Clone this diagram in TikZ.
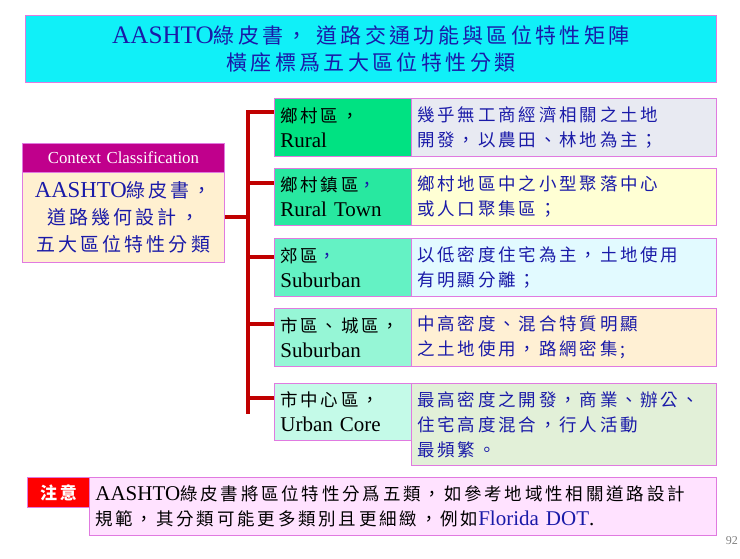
\documentclass[tikz,border=0pt]{standalone}
\usepackage{fontspec}
\setmainfont{Liberation Serif}[Scale=1.2]
\newfontfamily\cjk[LetterSpace=16]{Noto Sans CJK TC}
\usetikzlibrary{positioning}
\definecolor{tblue}{HTML}{1A1AA8}
\definecolor{trunk}{HTML}{C00000}
\definecolor{edge}{HTML}{E07AE0}
\definecolor{titlecyan}{HTML}{10F0F8}
\newcommand{\zh}[1]{{\cjk #1}}
\tikzset{
  cell/.style={draw=edge, line width=0.8pt, anchor=north west, inner xsep=6pt, inner ysep=0pt,
    align=left, text width=#1, font=\fontsize{17.5}{25}\selectfont},
  branch/.style={draw=trunk, line width=4pt}
}
\begin{document}
\begin{tikzpicture}[x=1pt, y=-1pt]
    \useasboundingbox (0,0) rectangle (740,559);

    \node[cell=670pt, fill=titlecyan, minimum width=691pt, minimum height=67pt, align=center,
          text=tblue, font=\fontsize{21}{27}\selectfont] (title) at (25,15)
      {AASHTO\zh{綠皮書， 道路交通功能與區位特性矩陣}\\\zh{橫座標爲五大區位特性分類}};

    \node[cell=190pt, fill={rgb,255:red,192;green,0;blue,140}, minimum width=202pt, minimum height=29pt,
          align=center, text=white, font=\fontsize{14}{18}\selectfont] (head) at (22,143) {Context Classification};
    \node[cell=190pt, fill={rgb,255:red,255;green,240;blue,208}, minimum width=202pt, minimum height=90pt,
          align=center, text=tblue, font=\fontsize{19}{27}\selectfont] (ctx) at (22,172)
      {AASHTO\zh{綠皮書，}\\\zh{道路幾何設計，}\\\zh{五大區位特性分類}};

    % five area types
    \node[cell=125pt, fill={rgb,255:red,0;green,226;blue,130}, minimum width=137pt, minimum height=58pt] (k1) at (274,98)
      {\zh{鄉村區，}\\Rural};
    \node[cell=125pt, fill={rgb,255:red,40;green,232;blue,160}, minimum width=137pt, minimum height=57pt] (k2) at (274,168)
      {\zh{鄉村鎮區}\textcolor{tblue}{\zh{，}}\\Rural Town};
    \node[cell=125pt, fill={rgb,255:red,100;green,242;blue,196}, minimum width=137pt, minimum height=58pt] (k3) at (274,238)
      {\zh{郊區}\textcolor{tblue}{\zh{，}}\\Suburban};
    \node[cell=125pt, fill={rgb,255:red,150;green,246;blue,214}, minimum width=137pt, minimum height=58pt] (k4) at (274,308)
      {\zh{市區、城區，}\\Suburban};
    \node[cell=125pt, fill={rgb,255:red,196;green,250;blue,232}, minimum width=137pt, minimum height=57pt] (k5) at (274,383)
      {\zh{市中心區，}\\Urban Core};

    \node[cell=293pt, fill={rgb,255:red,232;green,234;blue,242}, minimum width=305pt, minimum height=58pt, text=tblue] (d1) at (411,98)
      {\zh{幾乎無工商經濟相關之土地}\\\zh{開發，以農田、林地為主；}};
    \node[cell=293pt, fill={rgb,255:red,255;green,255;blue,212}, minimum width=305pt, minimum height=57pt, text=tblue] (d2) at (411,168)
      {\zh{鄉村地區中之小型聚落中心}\\\zh{或人口聚集區；}};
    \node[cell=293pt, fill={rgb,255:red,226;green,250;blue,255}, minimum width=305pt, minimum height=58pt, text=tblue] (d3) at (411,238)
      {\zh{以低密度住宅為主，土地使用}\\\zh{有明顯分離；}};
    \node[cell=293pt, fill={rgb,255:red,255;green,240;blue,212}, minimum width=305pt, minimum height=58pt, text=tblue] (d4) at (411,308)
      {\zh{中高密度、混合特質明顯}\\\zh{之土地使用，路網密集;}};
    \node[cell=293pt, fill={rgb,255:red,226;green,240;blue,216}, minimum width=305pt, minimum height=82pt, text=tblue] (d5) at (411,383)
      {\zh{最高密度之開發，商業、辦公、}\\\zh{住宅高度混合，行人活動}\\\zh{最頻繁。}};

    % tree connectors
    \coordinate (fork) at (248,217);
    \draw[branch] (ctx.east |- fork) -- (fork);
    \draw[branch, line cap=rect] (248,112) -- (248,412);
    \foreach \k/\yy in {k1/112, k2/183, k3/257, k4/324, k5/398} {
      \coordinate (b) at (248,\yy);
      \draw[branch] (b) -- (b -| \k.west);
    }

    % note
    \node[cell=50pt, fill=red, minimum width=62pt, minimum height=30pt, align=center, text=white,
          font=\fontsize{17}{20}\selectfont\bfseries] (warn) at (27,477) {\zh{注意}};
    \node[cell=615pt, fill={rgb,255:red,255;green,226;blue,255}, minimum width=627pt, minimum height=58pt] (note) at (89,477)
      {AASHTO\zh{綠皮書將區位特性分爲五類，如參考地域性相關道路設計}\\\zh{規範，其分類可能更多類別且更細緻，例如}\textcolor{tblue}{Florida DOT}.};

    \node[anchor=east, text=gray, font=\fontsize{10}{12}\selectfont, inner sep=0pt] (page) at (738,541) {92};
\end{tikzpicture}
\end{document}
